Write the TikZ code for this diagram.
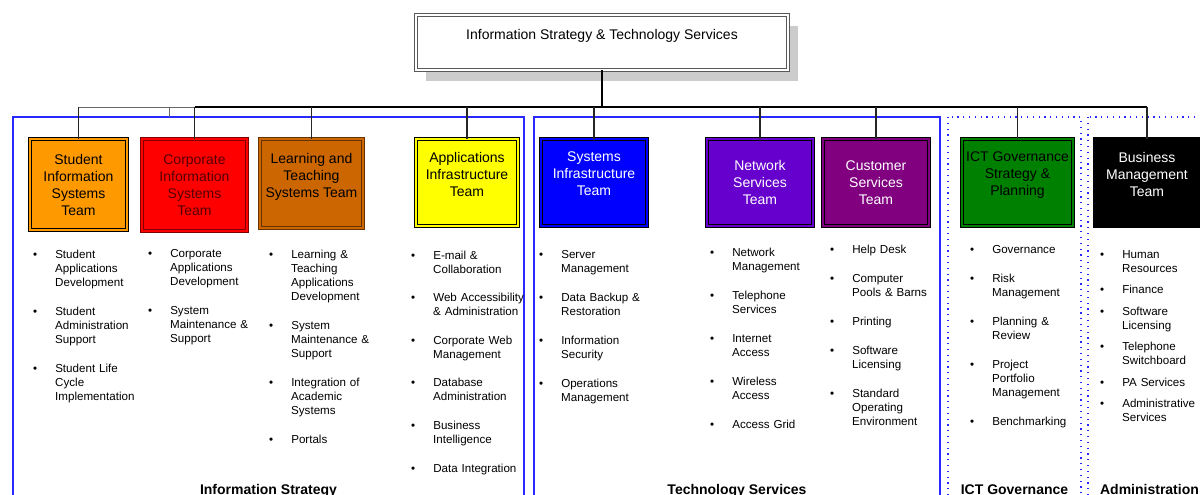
\documentclass[tikz,border=0pt]{standalone}
\usepackage{fontspec}
\setmainfont{Liberation Sans}
\usepackage{enumitem}
\usetikzlibrary{shadows}

\definecolor{sisorange}{HTML}{FF9900}
\definecolor{cisred}{HTML}{FF0000}
\definecolor{cisline}{HTML}{800000}
\definecolor{cistext}{HTML}{550000}
\definecolor{ltsbrown}{HTML}{CC6600}
\definecolor{ltsline}{HTML}{663300}
\definecolor{aiyellow}{HTML}{FFFF00}
\definecolor{siblue}{HTML}{0000FF}
\definecolor{nsviolet}{HTML}{6600CC}
\definecolor{cspurple}{HTML}{800080}
\definecolor{ictgreen}{HTML}{008000}
\definecolor{framblue}{HTML}{2828FF}
\definecolor{shadowgray}{HTML}{CCCCCC}

\newcommand{\duties}[2]{\begin{itemize}[label=\textbullet, leftmargin=22pt, labelwidth=4pt, labelsep=18pt, itemindent=0pt, align=left, itemsep=#1, parsep=0pt, topsep=0pt, partopsep=0pt]#2\end{itemize}}

\tikzset{
  team/.style={draw, line width=0.9pt, double distance=2.2pt, inner sep=1pt, align=center, font=\fontsize{14}{17}\selectfont},
  chief/.style={draw=black!65, line width=0.9pt, double=white, double distance=2pt, fill=white, inner sep=1pt, align=center, font=\fontsize{14}{17}\selectfont, minimum width=372pt, minimum height=55pt},
  duty/.style={anchor=base west, inner sep=0pt, text width=150pt, font=\fontsize{11.6}{14}\selectfont},
  group/.style={anchor=base, inner sep=0pt, font=\bfseries\fontsize{14}{17}\selectfont},
  link/.style={draw=black!85, line width=1.1pt},
  trunk/.style={draw=black, line width=2pt},
  frame/.style={draw=framblue, line width=1.2pt},
  dotframe/.style={draw=framblue, line width=1.2pt, dash pattern=on 1.2pt off 4.6pt}
}

\begin{document}
\begin{tikzpicture}[x=1pt, y=-1pt]
\clip (0,0) rectangle (1200,495);

%frames
	\draw[frame] (13,117) rectangle (524,520);
	\draw[frame] (534,117) rectangle (940,520);
	\draw[dotframe] (948,117) rectangle (1081,520);
	\draw[dotframe] (1088,117) rectangle (1220,520);

%director
	\node[chief, drop shadow={shadow xshift=10pt, shadow yshift=-11pt, fill=shadowgray, opacity=1}] (ist) at (602,42.5) {Information Strategy \& Technology Services\\\mbox{}};

%teams
	\foreach \name/\cx/\cy/\w/\h/\fc/\lc/\tc/\txt in {
		sis/78.5/184.5/96.6/90.6/sisorange/black/black/{Student\\Information\\Systems\\Team},
		cis/194.5/185/104.6/91.6/cisred/cisline/cistext/{Corporate\\Information\\Systems\\Team},
		lts/311.5/183.5/102.6/88.6/ltsbrown/ltsline/black/{Learning and\\Teaching\\Systems Team\\\mbox{}},
		ai/467/182.5/101.6/86.6/aiyellow/black/black/{Applications\\Infrastructure\\Team\\\mbox{}},
		si/594/182.5/105.6/86.6/siblue/black/white/{Systems\\Infrastructure\\Team\\\mbox{}},
		ns/760/182.5/105.6/86.6/nsviolet/black/white/{Network\\Services\\Team},
		cs/876/182.5/105.6/86.6/cspurple/black/white/{Customer\\Services\\Team},
		ict/1017.5/182.5/110.6/86.6/ictgreen/black/black/{ICT Governance\\Strategy \&\\Planning\\\mbox{}},
		bm/1147/182.5/103.6/86.6/black/black/white/{Business\\Management\\Team\\\mbox{}}} {
		\node[team, fill=\fc, draw=\lc, double=\fc, text=\tc, minimum width=\w pt, minimum height=\h pt] (\name) at (\cx,\cy) {\txt};
	}

%lines
	\coordinate (bar) at (0,107);
	\coordinate (isframe) at (169,117);
	\draw[trunk] (ist.south) -- (ist.south |- bar);
	\draw[link, draw=black!60, line width=0.9pt] (sis.north |- bar) -- (cis.north |- bar);
	\draw[trunk] (cis.north |- bar) -- (bm.north |- bar);
	\draw[link, draw=black!60, line width=0.9pt] (isframe |- bar) -- (isframe);
	\foreach \name in {sis, cis, lts, ai, si, ns, cs, ict, bm}{
		\draw[link] (\name.north) -- (\name.north |- bar);
	}

%duties
	\node[duty] (sis-d) at (33,244) {\duties{15pt}{
		\item Student\\Applications\\Development
		\item Student\\Administration\\Support
		\item Student Life\\Cycle\\Implementation}};
	\node[duty] (cis-d) at (148,243) {\duties{15pt}{
		\item Corporate\\Applications\\Development
		\item System\\Maintenance \&\\Support}};
	\node[duty] (lts-d) at (269,244) {\duties{15pt}{
		\item Learning \&\\Teaching\\Applications\\Development
		\item System\\Maintenance \&\\Support
		\item Integration of\\Academic\\Systems
		\item Portals}};
	\node[duty] (ai-d) at (411,245) {\duties{14.6pt}{
		\item E-mail \&\\Collaboration
		\item Web Accessibility\\\& Administration
		\item Corporate Web\\Management
		\item Database\\Administration
		\item Business\\Intelligence
		\item Data Integration}};
	\node[duty] (si-d) at (539,244) {\duties{15pt}{
		\item Server\\Management
		\item Data Backup \&\\Restoration
		\item Information\\Security
		\item Operations\\Management}};
	\node[duty] (ns-d) at (710,242) {\duties{15pt}{
		\item Network\\Management
		\item Telephone\\Services
		\item Internet\\Access
		\item Wireless\\Access
		\item Access Grid}};
	\node[duty] (cs-d) at (830,239) {\duties{15pt}{
		\item Help Desk
		\item Computer\\Pools \& Barns
		\item Printing
		\item Software\\Licensing
		\item Standard\\Operating\\Environment}};
	\node[duty] (ict-d) at (970,239) {\duties{15pt}{
		\item Governance
		\item Risk\\Management
		\item Planning \&\\Review
		\item Project\\Portfolio\\Management
		\item Benchmarking}};
	\node[duty] (bm-d) at (1100,244) {\duties{7.5pt}{
		\item Human\\Resources
		\item Finance
		\item Software\\Licensing
		\item Telephone\\Switchboard
		\item PA Services
		\item Administrative\\Services}};

%groups
	\node[group] (is-g) at (268.5,494) {Information Strategy};
	\node[group] (ts-g) at (737,494) {Technology Services};
	\node[group] (ict-g) at (1014.5,494) {ICT Governance};
	\node[group] (adm-g) at (1149.5,494) {Administration};

\end{tikzpicture}
\end{document}
